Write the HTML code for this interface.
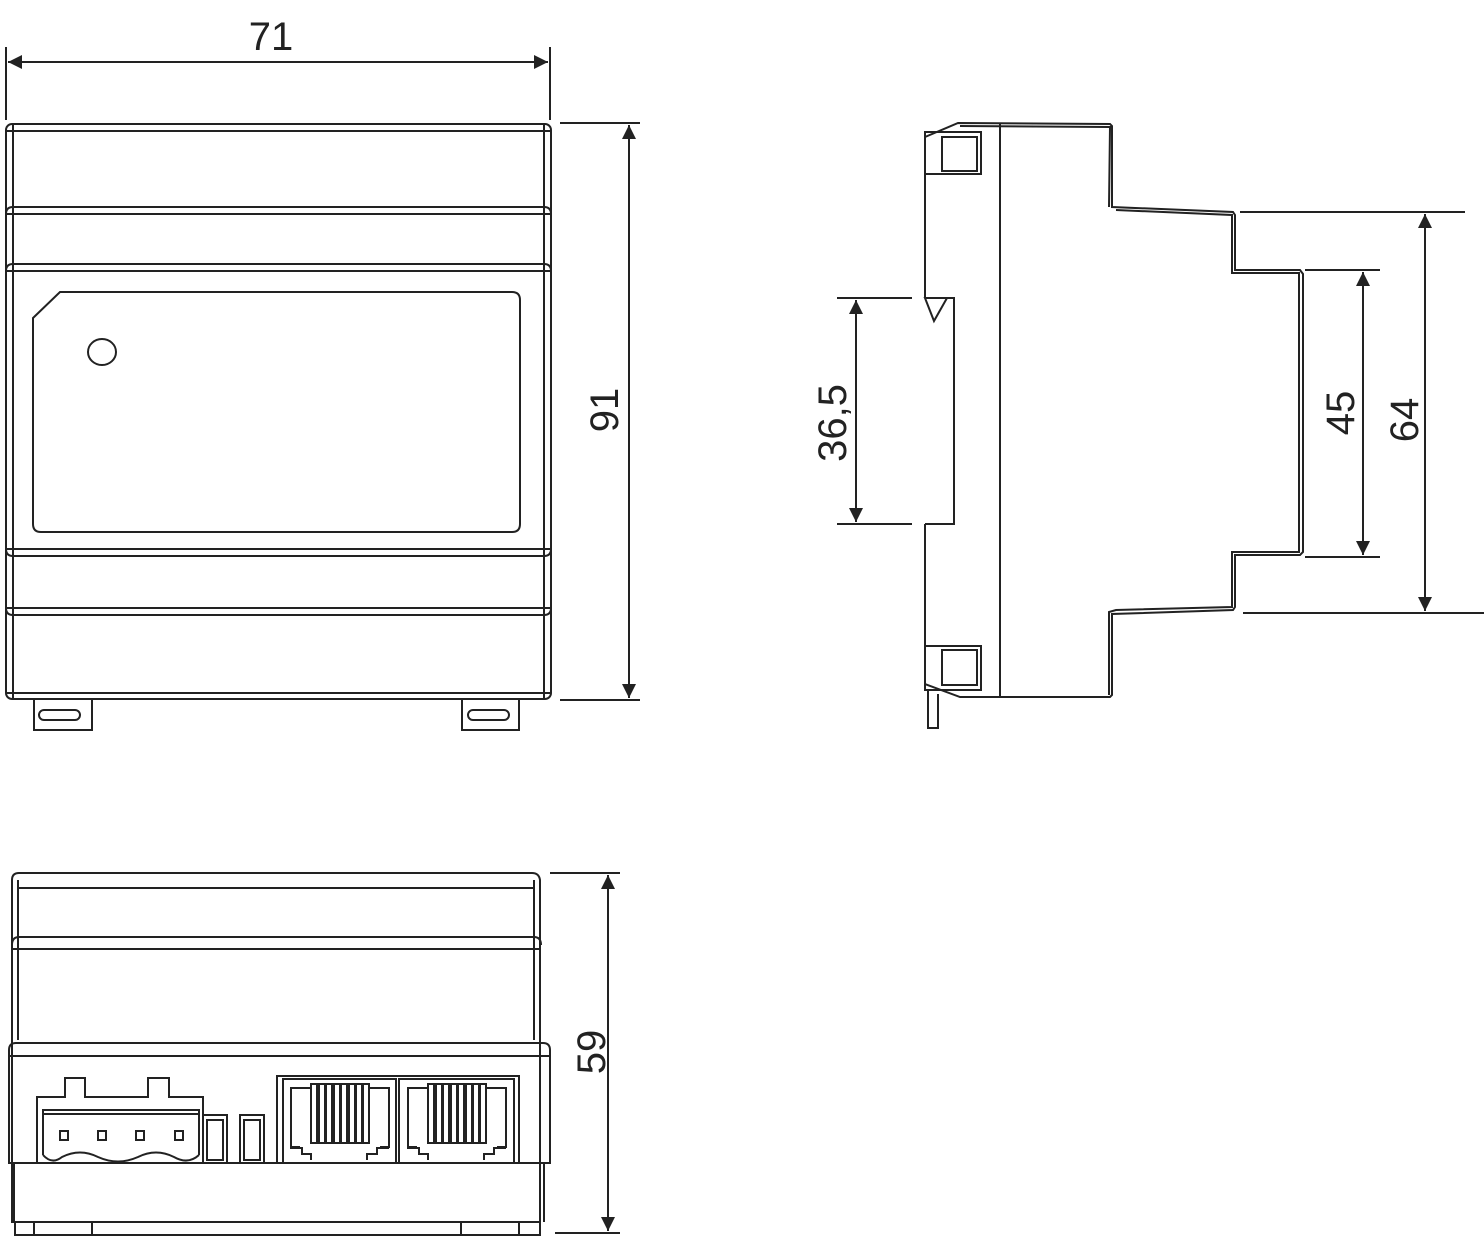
<!DOCTYPE html>
<html><head><meta charset="utf-8"><style>
html,body{margin:0;padding:0;background:#fff;}
svg{display:block;}
text{font-family:"Liberation Sans",sans-serif;fill:#222;}
</style></head><body>
<svg width="1484" height="1256" viewBox="0 0 1484 1256" xmlns="http://www.w3.org/2000/svg">
<defs>
<marker id="a" viewBox="0 0 10 10" refX="10" refY="5" markerWidth="20" markerHeight="14" markerUnits="userSpaceOnUse" orient="auto-start-reverse"><path d="M0,0 L10,5 L0,10 z" fill="#222"/></marker>
</defs>
<g fill="none" stroke="#222" stroke-width="2">
<!-- FRONT VIEW -->
<line x1="6" y1="47" x2="6" y2="120"/><line x1="550" y1="47" x2="550" y2="120"/>
<line x1="8" y1="62" x2="548" y2="62" marker-start="url(#a)" marker-end="url(#a)"/>
<rect x="6" y="124" width="545" height="575" rx="6"/>
<line x1="13" y1="124" x2="13" y2="699"/><line x1="544" y1="124" x2="544" y2="699"/>
<line x1="6" y1="131" x2="551" y2="131"/>
<path d="M6,214 Q6,207 13,207 L544,207 Q551,207 551,214"/><line x1="6" y1="214" x2="551" y2="214"/>
<path d="M6,271 Q6,264 13,264 L544,264 Q551,264 551,271"/><line x1="6" y1="271" x2="551" y2="271"/>
<line x1="6" y1="549" x2="551" y2="549"/><path d="M6,549 Q6,556 13,556 L544,556 Q551,556 551,549"/>
<line x1="6" y1="608" x2="551" y2="608"/><path d="M6,608 Q6,615 13,615 L544,615 Q551,615 551,608"/>
<line x1="6" y1="693" x2="551" y2="693"/>
<path d="M33,318 L60,292 L512,292 Q520,292 520,300 L520,524 Q520,532 512,532 L41,532 Q33,532 33,524 Z"/>
<ellipse cx="102" cy="352" rx="14" ry="13"/>
<path d="M34,700 L34,730 L92,730 L92,700"/><rect x="39" y="710" width="41" height="10" rx="5"/>
<path d="M462,700 L462,730 L519,730 L519,700"/><rect x="468" y="710" width="41" height="10" rx="5"/>
<line x1="560" y1="123" x2="640" y2="123"/><line x1="560" y1="700" x2="640" y2="700"/>
<line x1="629" y1="125" x2="629" y2="698" marker-start="url(#a)" marker-end="url(#a)"/>

<!-- SIDE VIEW -->
<path d="M925,298 L925,137 L958,123 L1110,124 L1112,126 L1112,207 L1233,212 L1235,215 L1235,270 L1300,270 L1303,274 L1303,552 L1300,555 L1235,555 L1235,607 L1233,610 L1112,614 L1112,695 L1110,697 L960,697 L925,684 L925,524"/>
<path d="M960,126 L1110,127 L1109,207 M1116,210 L1232,215 L1232,273 L1299,273 L1299,552 L1232,552 L1232,607 L1116,610 L1109,612 L1109,695"/>
<line x1="1000" y1="123" x2="1000" y2="697"/>
<path d="M925,298 L954,298 L954,524 L925,524"/>
<path d="M925,298 L947,298 L934,321 Z"/>
<rect x="925" y="132" width="56" height="42"/><rect x="942" y="137" width="35" height="34"/>
<rect x="925" y="646" width="56" height="44"/><rect x="942" y="650" width="35" height="35"/>
<path d="M928,690 L928,728 L938,728 L938,694"/>
<line x1="837" y1="298" x2="912" y2="298"/><line x1="837" y1="524" x2="912" y2="524"/>
<line x1="856" y1="300" x2="856" y2="522" marker-start="url(#a)" marker-end="url(#a)"/>
<line x1="1305" y1="270" x2="1380" y2="270"/><line x1="1305" y1="557" x2="1380" y2="557"/>
<line x1="1363" y1="272" x2="1363" y2="555" marker-start="url(#a)" marker-end="url(#a)"/>
<line x1="1240" y1="212" x2="1465" y2="212"/><line x1="1243" y1="613" x2="1484" y2="613"/>
<line x1="1425" y1="214" x2="1425" y2="611" marker-start="url(#a)" marker-end="url(#a)"/>

<!-- BOTTOM VIEW -->
<path d="M12,1222 L12,880 Q12,873 19,873 L532,873 Q539,873 540,880 L540,1222 Z"/>
<line x1="18" y1="888" x2="534" y2="888"/>
<line x1="18" y1="880" x2="18" y2="1040"/><line x1="534" y1="880" x2="534" y2="1040"/>
<path d="M12,945 Q12,937 19,937 L534,937 Q541,937 541,945"/><line x1="12" y1="949" x2="541" y2="949"/>
<path d="M9,1050 Q9,1043 16,1043 L543,1043 Q550,1043 550,1050"/><line x1="9" y1="1056" x2="550" y2="1056"/>
<path d="M9,1050 L9,1163 L550,1163 L550,1050"/>
<line x1="14" y1="1163" x2="14" y2="1222"/><line x1="544" y1="1163" x2="544" y2="1222"/>
<path d="M15,1222 L15,1235 L540,1235 L540,1222"/>
<line x1="34" y1="1222" x2="34" y2="1235"/><line x1="92" y1="1222" x2="92" y2="1235"/>
<line x1="461" y1="1222" x2="461" y2="1235"/><line x1="519" y1="1222" x2="519" y2="1235"/>
<path d="M37,1163 L37,1097 L65,1097 L65,1078 L85,1078 L85,1097 L148,1097 L148,1078 L169,1078 L169,1097 L203,1097 L203,1163"/>
<path d="M43,1155 L43,1110 L199,1110 L199,1155"/><line x1="43" y1="1114" x2="199" y2="1114"/>
<path d="M43,1155 Q52,1165 62,1157 Q80,1148 98,1157 Q118,1166 138,1157 Q156,1148 174,1157 Q188,1165 199,1155"/>
<rect x="60" y="1131" width="8" height="9"/><rect x="98" y="1131" width="8" height="9"/><rect x="136" y="1131" width="8" height="9"/><rect x="175" y="1131" width="8" height="9"/>
<rect x="203" y="1115" width="24" height="48"/><rect x="207" y="1120" width="16" height="40"/>
<rect x="240" y="1115" width="24" height="48"/><rect x="244" y="1120" width="16" height="40"/>
<path d="M277,1163 L277,1076 L519,1076 L519,1163"/>
<path d="M283,1163 L283,1079 L396,1079 L396,1163 M399,1163 L399,1079 L514,1079 L514,1163"/>
<g id="j">
<path d="M291,1138 L291,1088 L311,1088 M369,1088 L389,1088 L389,1148"/>
<path d="M291,1138 L291,1148 L302,1148 L302,1154 L311,1154 L311,1160 M389,1148 L377,1148 L377,1154 L367,1154 L367,1160"/>
<path d="M291,1147 L300,1147 M380,1147 L389,1147"/>
<rect x="311" y="1084" width="6" height="59"/><rect x="319" y="1084" width="6" height="59"/><rect x="326" y="1084" width="6" height="59"/><rect x="334" y="1084" width="6" height="59"/><rect x="341" y="1084" width="6" height="59"/><rect x="349" y="1084" width="6" height="59"/><rect x="356" y="1084" width="6" height="59"/><rect x="363" y="1084" width="6" height="59"/>
</g>
<use href="#j" x="117"/>
<line x1="550" y1="873" x2="620" y2="873"/><line x1="555" y1="1233" x2="620" y2="1233"/>
<line x1="608" y1="875" x2="608" y2="1231" marker-start="url(#a)" marker-end="url(#a)"/>
</g>
<g font-size="40">
<text x="271" y="50" text-anchor="middle">71</text>
<text transform="translate(618,410) rotate(-90)" text-anchor="middle">91</text>
<text transform="translate(846,423) rotate(-90)" text-anchor="middle">36,5</text>
<text transform="translate(1354,413) rotate(-90)" text-anchor="middle">45</text>
<text transform="translate(1418,420) rotate(-90)" text-anchor="middle">64</text>
<text transform="translate(605,1052) rotate(-90)" text-anchor="middle">59</text>
</g>
</svg>
</body></html>
